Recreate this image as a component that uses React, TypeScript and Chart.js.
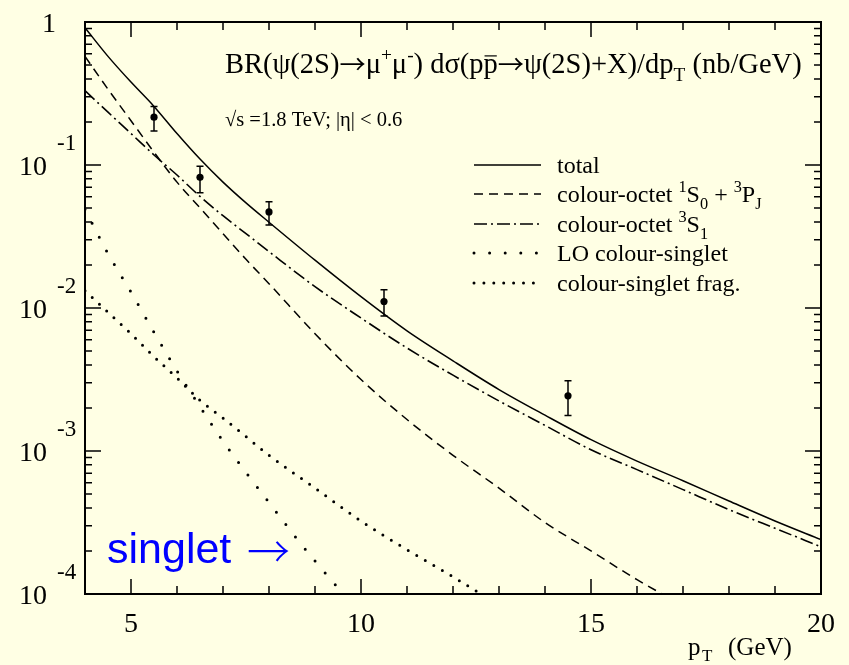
import React, { useEffect, useRef } from "react";
import { Chart, registerables } from "chart.js";

Chart.register(...registerables);

const W = 849;
const H = 665;
const BG = "#ffffe4";
const SERIF = "'Liberation Serif', 'DejaVu Serif', serif";
const SANS = "'Liberation Sans', Arial, sans-serif";
const ARROW = "'Noto Sans CJK JP', 'DejaVu Sans', sans-serif";

// ---- theory curves (pT in GeV, cross section in nb/GeV) ----
const xTotal = [4, 4.5, 5, 5.5, 6, 6.5, 7, 7.5, 8, 9, 10, 11, 12, 13, 14, 15, 16, 17, 18, 19, 20];
const yTotal = [0.912, 0.575, 0.38, 0.257, 0.166, 0.11, 0.0759, 0.0543, 0.0398, 0.0216, 0.012, 0.00692, 0.00427, 0.00269, 0.00178, 0.0012, 0.00085, 0.00062, 0.000447, 0.000324, 0.00024];

const xOctetS0P = [4, 4.5, 5, 5.5, 6, 6.5, 7, 7.5, 8, 9, 10, 11, 12, 13, 14, 15, 16, 17];
const yOctetS0P = [0.575, 0.339, 0.204, 0.123, 0.0759, 0.0501, 0.0331, 0.0219, 0.0148, 0.00661, 0.00316, 0.00166, 0.000933, 0.00055, 0.000316, 0.0002, 0.000126, 0.000083];

const xOctetS1 = [4, 4.5, 5, 5.5, 6, 6.5, 7, 7.5, 8, 9, 10, 11, 12, 13, 14, 15, 16, 17, 18, 19, 20];
const yOctetS1 = [0.331, 0.234, 0.166, 0.1175, 0.0851, 0.0603, 0.0442, 0.0331, 0.0248, 0.0141, 0.00851, 0.00525, 0.00339, 0.00224, 0.00151, 0.00102, 0.000741, 0.000537, 0.000389, 0.000288, 0.000214];

const xLOSinglet = [4, 4.5, 5, 5.5, 6, 6.5, 7, 7.5, 8, 8.5, 9, 9.5, 10];
const yLOSinglet = [0.049, 0.024, 0.0129, 0.00676, 0.00363, 0.00204, 0.00117, 0.000708, 0.000437, 0.000269, 0.00017, 0.00011, 0.000071];

const xFrag = [4, 4.5, 5, 5.5, 6, 6.5, 7, 7.5, 8, 9, 10, 11, 12, 13];
const yFrag = [0.0132, 0.00933, 0.00661, 0.00457, 0.00324, 0.00226, 0.0017, 0.00126, 0.000933, 0.00055, 0.000324, 0.000204, 0.000132, 0.000083];

// ---- CDF data points ----
const dataX = [5.5, 6.5, 8, 10.5, 14.5];
const dataY = [0.216, 0.082, 0.047, 0.0111, 0.00243];
const dataHi = [0.256, 0.098, 0.0554, 0.0134, 0.0031];
const dataLo = [0.173, 0.064, 0.038, 0.0088, 0.00177];

// ---- axes ----
const xMin = 4;
const xMax = 20;
const xMajorTicks = [5, 10, 15, 20];
const xTickLabels = ["5", "10", "15", "20"];
const yDecades = [0, -1, -2, -3, -4];

type Seg = { t: string; k?: "sup" | "sub" | "bar" | "arrow" };

const titleSegs: Seg[] = [
  { t: "BR(ψ(2S)" }, { t: "→", k: "arrow" }, { t: "μ" }, { t: "+", k: "sup" }, { t: "μ" }, { t: "-", k: "sup" },
  { t: ") dσ(p" }, { t: "p", k: "bar" }, { t: "→", k: "arrow" }, { t: "ψ(2S)+X)/dp" }, { t: "T", k: "sub" },
  { t: " (nb/GeV)" },
];
const subtitleSegs: Seg[] = [{ t: "√s =1.8 TeV; |η| < 0.6" }];

const legendLabels: Seg[][] = [
  [{ t: "total" }],
  [{ t: "colour-octet " }, { t: "1", k: "sup" }, { t: "S" }, { t: "0", k: "sub" }, { t: " + " }, { t: "3", k: "sup" }, { t: "P" }, { t: "J", k: "sub" }],
  [{ t: "colour-octet " }, { t: "3", k: "sup" }, { t: "S" }, { t: "1", k: "sub" }],
  [{ t: "LO colour-singlet" }],
  [{ t: "colour-singlet frag." }],
];
const annotationWord = "singlet";
const annotationArrow = "→";

const DASH_S0P = [9, 6];
const DASH_S1 = [13, 4, 2, 4];
const DASH_LO = [0, 15.6];
const DASH_FRAG = [0, 9.9];

const legendStyles = [
  { dash: [] as number[], width: 1.5, cap: "butt" as CanvasLineCap },
  { dash: DASH_S0P, width: 1.5, cap: "butt" as CanvasLineCap },
  { dash: DASH_S1, width: 1.6, cap: "butt" as CanvasLineCap },
  { dash: DASH_LO, width: 3, cap: "round" as CanvasLineCap },
  { dash: DASH_FRAG, width: 3, cap: "round" as CanvasLineCap },
];

function drawRich(ctx: CanvasRenderingContext2D, segs: Seg[], x: number, y: number, size: number, family: string) {
  let cx = x;
  for (const s of segs) {
    const small = s.k === "sup" || s.k === "sub";
    const fs = small ? size * 0.68 : s.k === "arrow" ? size * 0.92 : size;
    ctx.font = `${fs}px ${s.k === "arrow" ? ARROW : family}`;
    const dy = s.k === "sup" ? -size * 0.42 : s.k === "sub" ? size * 0.28 : s.k === "arrow" ? size * 0.04 : 0;
    ctx.fillText(s.t, cx, y + dy);
    const w = ctx.measureText(s.t).width;
    if (s.k === "bar") {
      ctx.save();
      ctx.lineWidth = 1.2;
      ctx.beginPath();
      ctx.moveTo(cx + 1, y - size * 0.6);
      ctx.lineTo(cx + w - 1, y - size * 0.6);
      ctx.stroke();
      ctx.restore();
    }
    cx += w;
  }
  return cx - x;
}

function pts(xs: number[], ys: number[]) {
  return xs.map((x, i) => ({ x, y: ys[i] }));
}

const bgPlugin = {
  id: "bg",
  beforeDraw(chart: any) {
    const ctx = chart.ctx as CanvasRenderingContext2D;
    ctx.save();
    ctx.fillStyle = BG;
    ctx.fillRect(0, 0, chart.width, chart.height);
    ctx.restore();
  },
};

const errPlugin = {
  id: "errbars",
  afterDatasetsDraw(chart: any) {
    const ctx = chart.ctx as CanvasRenderingContext2D;
    const xs = chart.scales.x;
    const ys = chart.scales.y;
    ctx.save();
    ctx.strokeStyle = "#000";
    ctx.lineWidth = 1.5;
    for (let i = 0; i < dataX.length; i++) {
      const px = xs.getPixelForValue(dataX[i]);
      const top = ys.getPixelForValue(dataHi[i]);
      const bot = ys.getPixelForValue(dataLo[i]);
      ctx.beginPath();
      ctx.moveTo(px, top);
      ctx.lineTo(px, bot);
      ctx.moveTo(px - 3.5, top);
      ctx.lineTo(px + 3.5, top);
      ctx.moveTo(px - 3.5, bot);
      ctx.lineTo(px + 3.5, bot);
      ctx.stroke();
    }
    ctx.restore();
  },
};

const framePlugin = {
  id: "frame",
  afterDraw(chart: any) {
    const ctx = chart.ctx as CanvasRenderingContext2D;
    const { left, right, top, bottom } = chart.chartArea;
    const xs = chart.scales.x;
    const ys = chart.scales.y;
    ctx.save();
    ctx.strokeStyle = "#000";
    ctx.fillStyle = "#000";

    // ticks
    ctx.lineWidth = 1.5;
    ctx.beginPath();
    for (let v = xMin + 1; v < xMax; v++) {
      const px = xs.getPixelForValue(v);
      const len = v % 5 === 0 ? 15 : 8;
      ctx.moveTo(px, bottom);
      ctx.lineTo(px, bottom - len);
      ctx.moveTo(px, top);
      ctx.lineTo(px, top + len);
    }
    for (const d of yDecades) {
      for (let k = 1; k <= 9; k++) {
        const v = k * Math.pow(10, d);
        if (v > 1 || v < 1e-4) continue;
        const py = ys.getPixelForValue(v);
        const len = k === 1 ? 16 : 7;
        ctx.moveTo(left, py);
        ctx.lineTo(left + len, py);
        ctx.moveTo(right, py);
        ctx.lineTo(right - len, py);
      }
    }
    ctx.stroke();

    // frame
    ctx.lineWidth = 2;
    ctx.strokeRect(left, top, right - left, bottom - top);

    // x tick labels
    ctx.textBaseline = "alphabetic";
    ctx.textAlign = "center";
    ctx.font = `28px ${SERIF}`;
    xMajorTicks.forEach((v, i) => {
      ctx.fillText(xTickLabels[i], xs.getPixelForValue(v), bottom + 38);
    });

    // y tick labels
    for (const d of yDecades) {
      const py = ys.getPixelForValue(Math.pow(10, d));
      if (d === 0) {
        ctx.textAlign = "center";
        ctx.font = `28px ${SERIF}`;
        ctx.fillText("1", 49, py + 10);
      } else {
        ctx.textAlign = "right";
        ctx.font = `28px ${SERIF}`;
        ctx.fillText("10", 47, py + 10);
        ctx.textAlign = "left";
        ctx.font = `23px ${SERIF}`;
        ctx.fillText(String(d), 57, py - 15);
      }
    }

    // axis title
    ctx.textAlign = "left";
    ctx.font = `25px ${SERIF}`;
    ctx.fillText("p", 688, 655);
    ctx.font = `17px ${SERIF}`;
    ctx.fillText("T", 702, 661);
    ctx.font = `25px ${SERIF}`;
    ctx.fillText("(GeV)", 728, 655);

    // title lines
    drawRich(ctx, titleSegs, 225, 73, 28.5, SERIF);
    drawRich(ctx, subtitleSegs, 225, 126, 20.5, SERIF);

    // legend
    const rowY = [165, 194, 224, 253, 283];
    legendLabels.forEach((segs, i) => {
      const st = legendStyles[i];
      ctx.save();
      ctx.lineWidth = st.width;
      ctx.lineCap = st.cap;
      ctx.setLineDash(st.dash);
      ctx.beginPath();
      ctx.moveTo(474, rowY[i]);
      ctx.lineTo(541, rowY[i]);
      ctx.stroke();
      ctx.restore();
      drawRich(ctx, segs, 557, rowY[i] + 8, 24, SERIF);
    });

    // annotation
    ctx.fillStyle = "#0000ff";
    ctx.font = `43px ${SANS}`;
    ctx.fillText(annotationWord, 107, 563);
    ctx.font = `300 43px ${ARROW}`;
    ctx.fillText(annotationArrow, 247, 568);

    ctx.restore();
  },
};

export default function App() {
  const ref = useRef<HTMLCanvasElement>(null);
  useEffect(() => {
    document.body.style.margin = "0";
    document.body.style.background = BG;
    const canvas = ref.current!;
    const chart = new Chart(canvas, {
      type: "line",
      data: {
        datasets: [
          {
            label: "total",
            data: pts(xTotal, yTotal),
            borderColor: "#000",
            borderWidth: 1.5,
            cubicInterpolationMode: "monotone",
            pointRadius: 0,
          },
          {
            label: "colour-octet 1S0 + 3PJ",
            data: pts(xOctetS0P, yOctetS0P),
            borderColor: "#000",
            borderWidth: 1.5,
            borderDash: DASH_S0P,
            cubicInterpolationMode: "monotone",
            pointRadius: 0,
          },
          {
            label: "colour-octet 3S1",
            data: pts(xOctetS1, yOctetS1),
            borderColor: "#000",
            borderWidth: 1.6,
            borderDash: DASH_S1,
            cubicInterpolationMode: "monotone",
            pointRadius: 0,
          },
          {
            label: "LO colour-singlet",
            data: pts(xLOSinglet, yLOSinglet),
            borderColor: "#000",
            borderWidth: 3,
            borderDash: DASH_LO,
            borderCapStyle: "round",
            cubicInterpolationMode: "monotone",
            pointRadius: 0,
          },
          {
            label: "colour-singlet frag.",
            data: pts(xFrag, yFrag),
            borderColor: "#000",
            borderWidth: 3,
            borderDash: DASH_FRAG,
            borderCapStyle: "round",
            cubicInterpolationMode: "monotone",
            pointRadius: 0,
          },
          {
            label: "data",
            data: pts(dataX, dataY),
            showLine: false,
            pointRadius: 3.6,
            pointBackgroundColor: "#000",
            pointBorderWidth: 0,
            borderColor: "#000",
          },
        ],
      },
      options: {
        responsive: false,
        animation: false,
        devicePixelRatio: 1,
        layout: { padding: { left: 85, right: 28, top: 22, bottom: 71 } },
        plugins: { legend: { display: false }, tooltip: { enabled: false } },
        scales: {
          x: { type: "linear", min: xMin, max: xMax, display: false },
          y: { type: "logarithmic", min: 1e-4, max: 1, display: false },
        },
      },
      plugins: [bgPlugin, errPlugin, framePlugin],
    } as any);
    return () => chart.destroy();
  }, []);
  return <canvas ref={ref} width={W} height={H} style={{ display: "block", width: W, height: H }} />;
}
